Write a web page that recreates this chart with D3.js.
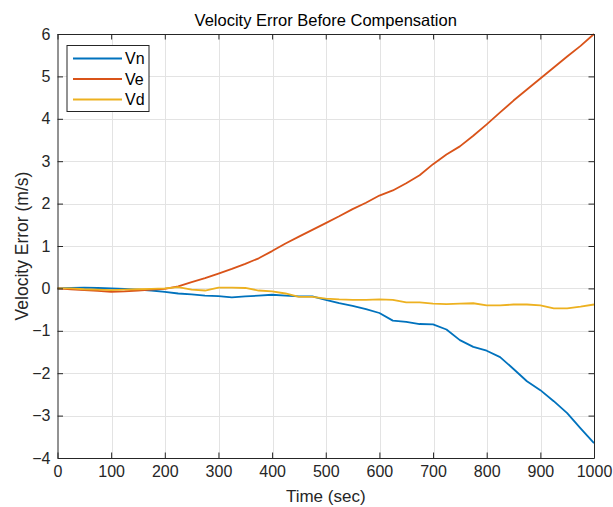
<!DOCTYPE html>
<html>
<head>
<meta charset="utf-8">
<script src="https://cdn.jsdelivr.net/npm/d3@7"></script>
<style>
	html, body { margin: 0; padding: 0; background: #fff; }
	svg { display: block; font-family: "Liberation Sans", Arial, sans-serif; }
	.grid line { stroke: #e3e3e3; stroke-width: 1; shape-rendering: crispEdges; }
	.tick-label { font-size: 16px; fill: #262626; }
</style>
</head>
<body>
<div id="canvas"></div>
<script>
// Data
var time = [0, 25, 50, 75, 100, 125, 150, 175, 200, 225, 250, 275, 300, 325, 350, 375, 400, 425, 450, 475,
	500, 525, 550, 575, 600, 625, 650, 675, 700, 725, 750, 775, 800, 825, 850, 875, 900, 925, 950, 975, 1000];
var vn = [0, 0.01, 0.02, 0.01, 0.0, -0.01, -0.03, -0.05, -0.08, -0.12, -0.14, -0.17, -0.18, -0.21, -0.19, -0.17, -0.15, -0.17, -0.19, -0.19,
	-0.27, -0.35, -0.41, -0.49, -0.58, -0.76, -0.79, -0.84, -0.85, -0.97, -1.22, -1.38, -1.47, -1.62, -1.9, -2.19, -2.4, -2.66, -2.94, -3.3, -3.65];
var ve = [0, -0.02, -0.04, -0.06, -0.08, -0.07, -0.05, -0.03, -0.01, 0.05, 0.15, 0.24, 0.35, 0.46, 0.58, 0.71, 0.88, 1.06, 1.22, 1.38,
	1.54, 1.7, 1.87, 2.02, 2.19, 2.31, 2.48, 2.67, 2.93, 3.16, 3.35, 3.6, 3.87, 4.15, 4.43, 4.69, 4.95, 5.21, 5.47, 5.72, 6.0];
var vd = [0, 0, -0.02, -0.03, -0.04, -0.03, -0.02, -0.01, 0.0, 0.03, -0.03, -0.05, 0.02, 0.02, 0.01, -0.05, -0.07, -0.12, -0.2, -0.2,
	-0.24, -0.26, -0.27, -0.27, -0.26, -0.27, -0.33, -0.33, -0.36, -0.37, -0.36, -0.35, -0.4, -0.4, -0.38, -0.38, -0.4, -0.47, -0.47, -0.43, -0.38];
var seriesNames = ['Vn', 'Ve', 'Vd'];
var seriesColors = ['#0072BD', '#D95319', '#EDB120'];
var xTicks = [0, 100, 200, 300, 400, 500, 600, 700, 800, 900, 1000];
var yTicks = [-4, -3, -2, -1, 0, 1, 2, 3, 4, 5, 6];

var width = 613, height = 507,
	margin = { top: 34, right: 19, bottom: 49, left: 57.5 },
	innerW = width - margin.left - margin.right,
	innerH = height - margin.top - margin.bottom,
	axisColor = '#262626',
	tickLen = 5.5;

var svg = d3.select('#canvas').append('svg')
	.attr('width', width)
	.attr('height', height);

var x = d3.scaleLinear().domain([0, 1000]).range([0, innerW]),
	y = d3.scaleLinear().domain([-4, 6]).range([innerH, 0]);

var g = svg.append('g')
	.attr('transform', 'translate(' + margin.left + ',' + margin.top + ')');

// Grid
var grid = g.append('g').attr('class', 'grid');
grid.selectAll('.gx').data(xTicks.slice(1, -1)).enter().append('line')
	.attr('x1', function(d) { return Math.round(x(d)) + 0.5; })
	.attr('x2', function(d) { return Math.round(x(d)) + 0.5; })
	.attr('y1', 0).attr('y2', innerH);
grid.selectAll('.gy').data(yTicks.slice(1, -1)).enter().append('line')
	.attr('y1', function(d) { return Math.round(y(d)) + 0.5; })
	.attr('y2', function(d) { return Math.round(y(d)) + 0.5; })
	.attr('x1', 0).attr('x2', innerW);

// Lines
var line = d3.line()
	.x(function(d, i) { return x(time[i]); })
	.y(function(d) { return y(d); });
[vn, ve, vd].forEach(function(s, i) {
	g.append('path')
		.datum(s)
		.attr('fill', 'none')
		.attr('stroke', seriesColors[i])
		.attr('stroke-width', 1.8)
		.attr('stroke-linejoin', 'round')
		.attr('d', line);
});

// Axes (MATLAB style: ticks inside, box on)
var fmt = d3.format('d');
var xAxisB = d3.axisBottom(x).tickValues(xTicks).tickFormat(fmt).tickSizeInner(-tickLen).tickSizeOuter(0).tickPadding(8),
	xAxisT = d3.axisTop(x).tickValues(xTicks).tickSizeInner(-tickLen).tickSizeOuter(0).tickFormat(''),
	yAxisL = d3.axisLeft(y).tickValues(yTicks).tickFormat(fmt).tickSizeInner(-tickLen).tickSizeOuter(0).tickPadding(7),
	yAxisR = d3.axisRight(y).tickValues(yTicks).tickSizeInner(-tickLen).tickSizeOuter(0).tickFormat('');

function styleAxis(sel) {
	sel.selectAll('path').attr('stroke', axisColor).attr('stroke-width', 1);
	sel.selectAll('line').attr('stroke', axisColor);
	sel.selectAll('text').attr('class', 'tick-label');
	sel.attr('font-family', null).attr('font-size', null);
}

g.append('g').attr('transform', 'translate(0,' + innerH + ')').call(xAxisB).call(styleAxis);
g.append('g').call(xAxisT).call(styleAxis);
g.append('g').call(yAxisL).call(styleAxis);
g.append('g').attr('transform', 'translate(' + innerW + ',0)').call(yAxisR).call(styleAxis);

// Title and labels
svg.append('text')
	.attr('x', margin.left + innerW / 2)
	.attr('y', 26)
	.attr('text-anchor', 'middle')
	.attr('font-size', 16.5)
	.attr('fill', '#000')
	.text('Velocity Error Before Compensation');

svg.append('text')
	.attr('x', margin.left + innerW / 2)
	.attr('y', 502)
	.attr('text-anchor', 'middle')
	.attr('font-size', 17)
	.attr('fill', '#262626')
	.text('Time (sec)');

svg.append('text')
	.attr('transform', 'translate(28,' + (margin.top + innerH / 2) + ') rotate(-90)')
	.attr('text-anchor', 'middle')
	.attr('font-size', 17.5)
	.attr('fill', '#262626')
	.text('Velocity Error (m/s)');

// Legend
var legend = g.append('g').attr('transform', 'translate(9.5,11.5)');
legend.append('rect')
	.attr('width', 82).attr('height', 66)
	.attr('fill', '#fff')
	.attr('stroke', axisColor)
	.attr('stroke-width', 1);
seriesNames.forEach(function(name, i) {
	var yy = 13 + i * 20.5;
	legend.append('line')
		.attr('x1', 6).attr('x2', 55)
		.attr('y1', yy).attr('y2', yy)
		.attr('stroke', seriesColors[i])
		.attr('stroke-width', 1.8);
	legend.append('text')
		.attr('x', 58).attr('y', yy + 5.5)
		.attr('font-size', 16)
		.attr('fill', '#000')
		.text(name);
});
</script>
</body>
</html>
